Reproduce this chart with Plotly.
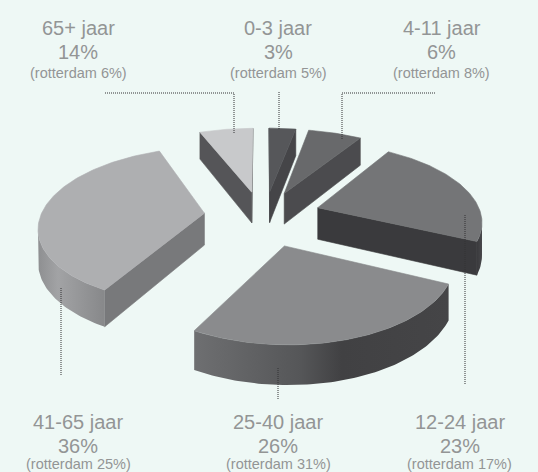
import math
import plotly.graph_objects as go

age_groups = ["0-3 jaar", "4-11 jaar", "12-24 jaar", "25-40 jaar", "41-65 jaar", "65+ jaar"]
percent_labels = [3, 6, 23, 26, 36, 14]
rotterdam_labels = [5, 8, 17, 31, 25, 6]
drawn_share = [3, 6, 23, 26, 36, 6]

top_colors = ["#56575a", "#68696b", "#747577", "#8a8b8d", "#aeafb1", "#c8c9cb"]
cut_colors = ["#454548", "#4b4b4e", "#3a3a3d", "#555558", "#78797b", "#555558"]
rim_scales = [
    [[0, "#454548"], [1, "#454548"]],
    [[0, "#4b4b4e"], [1, "#4b4b4e"]],
    [[0, "#3a3a3d"], [1, "#48484b"]],
    [[0, "#6e6f71"], [0.42, "#555658"], [0.58, "#414143"], [1, "#454547"]],
    [[0, "#8e8f91"], [0.3, "#a2a3a5"], [1, "#87888a"]],
    [[0, "#555558"], [1, "#555558"]],
]
explode = [0.30, 0.30, 0.33, 0.38, 0.36, 0.30]
radius = [1.0, 1.0, 0.95, 0.92, 0.95, 1.0]
nudge_x = [-1, 0, -2, -3, 0, -5]

BG = "#eef8f5"
TEXT = "#939595"
CX, CY, R, B, A, H = 266, 215, 172, 80.7, 0.159, 32


def project(x, y, z=0.0):
    s = 1 / (1 - A * y)
    return CX + R * x * s, CY + B * y * s + H * z * s


def poly(fig, pts, color, name, scale=None):
    xs = [p[0] for p in pts] + [pts[0][0]]
    ys = [p[1] for p in pts] + [pts[0][1]]
    kw = dict(fillcolor=color, line=dict(color=color, width=0.6))
    if scale:
        kw = dict(fillgradient=dict(type="horizontal", colorscale=scale), line=dict(width=0))
    fig.add_trace(go.Scatter(x=xs, y=ys, mode="lines", fill="toself", hoverinfo="skip",
                             name=name, showlegend=False, **kw))


total = sum(drawn_share)
starts, a0 = [], 0.0
for v in drawn_share:
    starts.append(a0)
    a0 += v / total * 360

fig = go.Figure()
order = [5, 0, 1, 2, 4, 3]
for i in order:
    start = starts[i]
    sweep = drawn_share[i] / total * 360
    mid = math.radians(start + sweep / 2)
    e, r = explode[i], radius[i]
    ox, oy = e * math.sin(mid), -e * math.cos(mid)
    n = max(6, int(sweep))
    rim = []
    for k in range(n + 1):
        ang = math.radians(start + sweep * k / n)
        rim.append((ox + r * math.sin(ang), oy - r * math.cos(ang)))
    dx = nudge_x[i]

    def pj(p, z=0.0):
        X, Y = project(p[0], p[1], z)
        return X + dx, Y

    apex = (ox, oy)
    # side faces that look towards the viewer: edges running right-to-left on screen
    if pj(rim[0])[0] < pj(apex)[0]:
        poly(fig, [pj(apex), pj(rim[0]), pj(rim[0], 1), pj(apex, 1)], cut_colors[i], age_groups[i])
    if pj(apex)[0] < pj(rim[-1])[0]:
        poly(fig, [pj(rim[-1]), pj(apex), pj(apex, 1), pj(rim[-1], 1)], cut_colors[i], age_groups[i])
    front = [p for a, p in zip(rim, rim[1:]) if pj(p)[0] < pj(a)[0]]
    run = [a for a, p in zip(rim, rim[1:]) if pj(p)[0] < pj(a)[0]]
    if run:
        arc = run + [front[-1]]
        pts = [pj(p) for p in arc] + [pj(p, 1) for p in reversed(arc)]
        poly(fig, pts, cut_colors[i], age_groups[i], scale=rim_scales[i])
    poly(fig, [pj(apex)] + [pj(p) for p in rim], top_colors[i], age_groups[i])

leaders = [
    ([105, 234, 234], [93, 93, 133]),
    ([279, 279], [92, 130]),
    ([435, 342, 342], [93, 93, 139]),
    ([465, 465], [215, 385]),
    ([278, 278], [368, 399]),
    ([61, 61], [288, 375]),
]
for lx, ly in leaders:
    fig.add_trace(go.Scatter(x=lx, y=ly, mode="lines", hoverinfo="skip", showlegend=False,
                             line=dict(color="#333335", width=1, dash="1px,1px")))

label_pos = {0: (278, 0), 1: (441.5, 0), 2: (459.5, 1), 3: (278, 1), 4: (78, 1), 5: (78, 0)}
rows = [(27.5, 52, 73), (421.5, 445.5, 463.5)]
annotations = []
for i, (lx, row) in label_pos.items():
    lines = [(age_groups[i], 20), (f"{percent_labels[i]}%", 20), (f"(rotterdam {rotterdam_labels[i]}%)", 14.5)]
    for (txt, size), ly in zip(lines, rows[row]):
        annotations.append(dict(x=lx, y=ly, xref="x", yref="y", text=txt, showarrow=False,
                                xanchor="center", yanchor="middle",
                                font=dict(family="Liberation Sans", size=size, color=TEXT)))

fig.update_layout(
    width=538, height=472, autosize=False, margin=dict(l=0, r=0, t=0, b=0),
    paper_bgcolor=BG, plot_bgcolor=BG, showlegend=False, annotations=annotations,
    xaxis=dict(range=[0, 538], visible=False, fixedrange=True),
    yaxis=dict(range=[472, 0], visible=False, fixedrange=True),
)
fig.write_html("out.html", config={"displayModeBar": False},
               post_script="document.body.style.margin='0';document.body.style.overflow='hidden';"
                           f"document.body.style.background='{BG}';")
